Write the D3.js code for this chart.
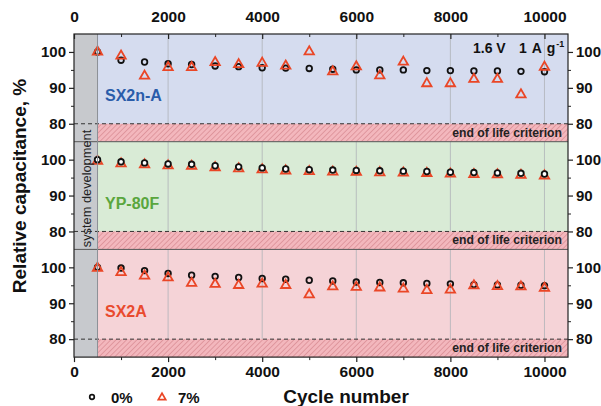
<!DOCTYPE html>
<html>
<head>
<meta charset="utf-8">
<script src="https://cdn.jsdelivr.net/npm/d3@7"></script>
<style>
  body { margin: 0; background: #fff; }
  svg { display: block; font-family: 'Liberation Sans', Arial, sans-serif; font-weight: bold; }
</style>
</head>
<body>
<script>
// cycle numbers shared by all series
const cycles = [500, 1000, 1500, 2000, 2500, 3000, 3500, 4000, 4500, 5000,
  5500, 6000, 6500, 7000, 7500, 8000, 8500, 9000, 9500, 10000];

const sx2nA0 = [100, 97.7, 97.2, 96.7, 96.5, 96.1, 95.9, 95.6, 95.5, 95.4, 95.2, 95.0, 95.0, 95.0, 94.8, 94.8, 94.7, 94.7, 94.6, 94.5];
const sx2nA7 = [100.0, 98.9, 93.3, 95.7, 95.7, 97.1, 96.5, 96.9, 96.1, 100.1, 94.5, 95.9, 93.4, 97.2, 91.2, 91.2, 92.4, 92.4, 88.1, 95.8];
const yp80f0 = [100, 99.4, 99.1, 98.8, 98.7, 98.3, 98.0, 97.7, 97.4, 97.2, 97.1, 97.0, 96.9, 96.8, 96.7, 96.5, 96.4, 96.3, 96.2, 96.0];
const yp80f7 = [99.6, 98.9, 98.6, 98.3, 98.2, 97.8, 97.5, 97.2, 96.9, 96.7, 96.6, 96.5, 96.4, 96.3, 96.2, 96.0, 95.9, 95.8, 95.7, 95.5];
const sx2a0 = [100, 99.8, 99.1, 98.3, 97.8, 97.5, 97.2, 96.9, 96.7, 96.4, 96.2, 95.9, 95.8, 95.7, 95.5, 95.4, 95.2, 95.1, 95.0, 94.9];
const sx2a7 = [99.8, 98.6, 97.6, 97.1, 95.6, 95.3, 95.0, 95.4, 95.0, 92.4, 94.6, 94.5, 94.3, 94.0, 93.6, 93.7, 94.9, 94.7, 94.6, 94.2];

const panelNames = ['SX2n-A', 'YP-80F', 'SX2A'];
const panelColors = ['#d5dcef', '#d9ebd6', '#f5d3d7'];
const labelColors = ['#2a5caa', '#5aa63e', '#e94a2e'];
const xTicks = [0, 2000, 4000, 6000, 8000, 10000];
const yTicks = [80, 90, 100];
const legendLabels = ['0%', '7%'];

const W = 601, H = 406;
const plotLeft = 74, plotRight = 568, plotTop = 34, panelH = 107.7;

const svg = d3.select('body').append('svg')
  .attr('width', W)
  .attr('height', H);

const x = d3.scaleLinear().domain([0, 10500]).range([plotLeft, plotRight]);

// hatch pattern for the end-of-life band
const defs = svg.append('defs');
const pat = defs.append('pattern')
  .attr('id', 'hatch')
  .attr('patternUnits', 'userSpaceOnUse')
  .attr('width', 3.7)
  .attr('height', 3.7)
  .attr('patternTransform', 'rotate(45)');
pat.append('rect').attr('width', 3.7).attr('height', 3.7).attr('fill', '#f3b7bd');
pat.append('line').attr('x1', 0).attr('y1', 0).attr('x2', 0).attr('y2', 3.7)
  .attr('stroke', '#cc7780').attr('stroke-width', 1);

const panels = [
  { c: sx2nA0, t: sx2nA7, circlesOnTop: false },
  { c: yp80f0, t: yp80f7, circlesOnTop: true },
  { c: sx2a0, t: sx2a7, circlesOnTop: false }
];

const tri = d3.symbol().type(d3.symbolTriangle).size(38);

panels.forEach((p, i) => {
  const y0 = plotTop + i * panelH;
  const y = d3.scaleLinear().domain([75, 105]).range([y0 + panelH, y0]);
  const g = svg.append('g');

  g.append('rect')
    .attr('x', x(500)).attr('y', y0)
    .attr('width', plotRight - x(500)).attr('height', panelH)
    .attr('fill', panelColors[i]);

  // vertical grid lines
  g.selectAll('.grid')
    .data(xTicks.slice(1))
    .enter().append('line')
    .attr('x1', d => x(d)).attr('x2', d => x(d))
    .attr('y1', y0).attr('y2', y(80))
    .attr('stroke', '#aeb2b8').attr('stroke-width', 0.8);

  g.append('rect')
    .attr('x', x(500)).attr('y', y(80))
    .attr('width', plotRight - x(500)).attr('height', y(75) - y(80))
    .attr('fill', 'url(#hatch)');

  // gray "system development" band
  g.append('rect')
    .attr('x', x(0)).attr('y', y0)
    .attr('width', x(500) - x(0)).attr('height', panelH)
    .attr('fill', '#c7c9cd');

  g.append('line')
    .attr('x1', plotLeft).attr('x2', plotRight)
    .attr('y1', y(80)).attr('y2', y(80))
    .attr('stroke', '#333').attr('stroke-width', 1)
    .attr('stroke-dasharray', '4,3');

  g.append('text')
    .attr('x', 562).attr('y', y(80) + 13)
    .attr('text-anchor', 'end')
    .attr('font-size', 12.2)
    .attr('fill', '#222')
    .text('end of life criterion');

  g.append('text')
    .attr('x', 105).attr('y', y(86.3))
    .attr('font-size', 16)
    .attr('fill', labelColors[i])
    .text(panelNames[i]);

  const drawCircles = () => g.selectAll('.c' + i)
    .data(p.c)
    .enter().append('circle')
    .attr('cx', (d, k) => x(cycles[k]))
    .attr('cy', d => y(d))
    .attr('r', 2.8)
    .attr('fill', p.circlesOnTop ? '#fff' : 'none')
    .attr('stroke', '#111')
    .attr('stroke-width', 1.8);

  const drawTriangles = () => g.selectAll('.t' + i)
    .data(p.t)
    .enter().append('path')
    .attr('d', tri)
    .attr('transform', (d, k) => `translate(${x(cycles[k])},${y(d)})`)
    .attr('fill', 'none')
    .attr('stroke', '#ea4626')
    .attr('stroke-width', 1.8);

  if (p.circlesOnTop) { drawTriangles(); drawCircles(); }
  else { drawCircles(); drawTriangles(); }

  // left and right axes
  const leftAxis = svg.append('g')
    .attr('transform', `translate(${plotLeft},0)`)
    .call(d3.axisLeft(y).tickValues(yTicks).tickSize(5).tickPadding(3));
  const rightAxis = svg.append('g')
    .attr('transform', `translate(${plotRight},0)`)
    .call(d3.axisRight(y).tickValues(yTicks).tickSize(5).tickPadding(3));
  [leftAxis, rightAxis].forEach(a => {
    a.select('.domain').remove();
    a.selectAll('text').attr('font-size', 15).attr('font-family', null).attr('fill', '#111');
    a.selectAll('line').attr('stroke', '#222').attr('stroke-width', 1.2);
  });
  svg.append('g')
    .attr('transform', `translate(${plotLeft},0)`)
    .call(d3.axisLeft(y).tickValues([85, 95]).tickSize(3).tickFormat(''))
    .call(a => a.select('.domain').remove())
    .selectAll('line').attr('stroke', '#222');
  svg.append('g')
    .attr('transform', `translate(${plotRight},0)`)
    .call(d3.axisRight(y).tickValues([85, 95]).tickSize(3).tickFormat(''))
    .call(a => a.select('.domain').remove())
    .selectAll('line').attr('stroke', '#222');

  if (i > 0) {
    svg.append('line')
      .attr('x1', plotLeft).attr('x2', plotRight)
      .attr('y1', y0).attr('y2', y0)
      .attr('stroke', '#555').attr('stroke-width', 1);
  }
});

// edge of the gray band
svg.append('line')
  .attr('x1', x(500)).attr('x2', x(500))
  .attr('y1', plotTop).attr('y2', plotTop + 3 * panelH)
  .attr('stroke', '#8c9096').attr('stroke-width', 1);

svg.append('text')
  .attr('transform', `translate(${x(250) + 5},${188.5}) rotate(-90)`)
  .attr('text-anchor', 'middle')
  .attr('font-size', 12.8)
  .attr('font-weight', 'normal')
  .attr('fill', '#222')
  .text('system development');

// frame
svg.append('rect')
  .attr('x', plotLeft).attr('y', plotTop)
  .attr('width', plotRight - plotLeft).attr('height', 3 * panelH)
  .attr('fill', 'none').attr('stroke', '#222').attr('stroke-width', 1.2);

// top and bottom axes
const bottomAxis = svg.append('g')
  .attr('transform', `translate(0,${plotTop + 3 * panelH})`)
  .call(d3.axisBottom(x).tickValues(xTicks).tickFormat(d3.format('d')).tickSize(5).tickPadding(4));
const topAxis = svg.append('g')
  .attr('transform', `translate(0,${plotTop})`)
  .call(d3.axisTop(x).tickValues(xTicks).tickFormat(d3.format('d')).tickSize(-5).tickPadding(12));
[bottomAxis, topAxis].forEach(a => {
  a.select('.domain').remove();
  a.selectAll('text').attr('font-size', 15.5).attr('font-family', null).attr('fill', '#111');
  a.selectAll('line').attr('stroke', '#222').attr('stroke-width', 1.2);
});
const minorX = [1000, 3000, 5000, 7000, 9000];
svg.append('g')
  .attr('transform', `translate(0,${plotTop + 3 * panelH})`)
  .call(d3.axisBottom(x).tickValues(minorX).tickSize(3).tickFormat(''))
  .call(a => a.select('.domain').remove())
  .selectAll('line').attr('stroke', '#222');
svg.append('g')
  .attr('transform', `translate(0,${plotTop})`)
  .call(d3.axisTop(x).tickValues(minorX).tickSize(-3).tickFormat(''))
  .call(a => a.select('.domain').remove())
  .selectAll('line').attr('stroke', '#222');

// conditions
svg.append('text')
  .attr('x', 473).attr('y', 53)
  .attr('font-size', 14).attr('fill', '#111')
  .text('1.6 V');
const cond = svg.append('text')
  .attr('x', 519).attr('y', 53)
  .attr('font-size', 14).attr('fill', '#111')
  .attr('letter-spacing', 0.8);
cond.append('tspan').text('1 A g');
cond.append('tspan').attr('dy', -6).attr('font-size', 9).attr('letter-spacing', 0).text('-1');

// axis titles
svg.append('text')
  .attr('transform', 'translate(26,186) rotate(-90)')
  .attr('text-anchor', 'middle')
  .attr('font-size', 19).attr('fill', '#111')
  .text('Relative capacitance, %');

svg.append('text')
  .attr('x', 346).attr('y', 403)
  .attr('text-anchor', 'middle')
  .attr('font-size', 19).attr('fill', '#111')
  .text('Cycle number');

// legend
const lg = svg.append('g');
lg.append('circle')
  .attr('cx', 92).attr('cy', 397).attr('r', 2.3)
  .attr('fill', 'none').attr('stroke', '#111').attr('stroke-width', 1.7);
lg.append('path')
  .attr('d', d3.symbol().type(d3.symbolTriangle).size(24)())
  .attr('transform', 'translate(162,397.5)')
  .attr('fill', 'none').attr('stroke', '#ea4626').attr('stroke-width', 1.7);
lg.selectAll('.lt')
  .data(legendLabels)
  .enter().append('text')
  .attr('x', (d, k) => k === 0 ? 111 : 178)
  .attr('y', 403)
  .attr('font-size', 15).attr('fill', '#111')
  .text(d => d);
</script>
</body>
</html>
